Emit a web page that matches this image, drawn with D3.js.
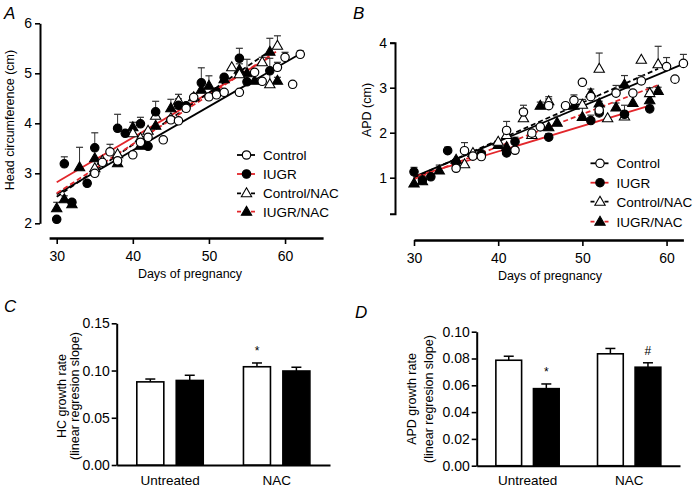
<!DOCTYPE html>
<html><head><meta charset="utf-8">
<script src="https://cdn.jsdelivr.net/npm/d3@7"></script>
<style>
body{margin:0;background:#fff;}
svg text{font-family:"Liberation Sans",Arial,Helvetica,sans-serif;fill:#000;}
</style></head><body>
<svg id="chart" width="693" height="488"></svg>
<script>
// ---------- DATA ----------
const groups = ["Control", "IUGR", "Control/NAC", "IUGR/NAC"];
const dayTicks = [30, 40, 50, 60];
const hcTicks = [2, 3, 4, 5, 6];
const apdTicks = [1, 2, 3, 4];

// [day, mean, SEM] — head circumference (cm)
const hcControl = [[35,3.0,0.1],[36,3.22,0.05],[37,3.43,0.15],[38,3.25,0],[40,3.37,0],[41,3.62,0.1],[42,3.72,0],[44,3.67,0],[45,4.07,0],[46,4.05,0],[47,4.3,0],[48,4.52,0],[50,4.53,0],[51,4.57,0],[52,4.62,0],[54,4.62,0],[56,5.02,0],[57,4.84,0],[59,5.12,0.1],[60,5.32,0.1],[61,4.78,0],[62,5.38,0.07]];
const hcIUGR = [[30,2.08,0],[31,3.19,0.14],[32,2.42,0.05],[34,2.8,0.05],[35,3.51,0.3],[38,3.9,0.28],[39,3.8,0],[41,3.99,0.13],[42,3.54,0],[43,4.23,0.21],[46,4.36,0.13],[47,4.35,0],[49,4.81,0.3],[51,4.63,0],[52,4.92,0],[54,5.3,0.2],[55,4.83,0],[58,5.05,0.25]];
const hcControlNAC = [[35,3.1,0],[36,3.25,0],[38,3.38,0],[40,3.8,0],[41,3.7,0],[42,3.85,0],[43,4.15,0],[45,4.1,0],[46,4.45,0.13],[48,4.52,0],[53,5.12,0],[54,4.98,0],[57,5.22,0.1],[58,4.78,0.3],[59,5.55,0.2]];
const hcIUGRNAC = [[30,2.3,0.12],[31,2.48,0.07],[32,2.38,0.05],[33,3.12,0.4],[35,3.3,0],[38,3.2,0.15],[40,3.92,0.1],[41,3.55,0],[43,3.95,0],[45,4.3,0.18],[49,4.67,0],[50,4.75,0.2],[52,4.88,0],[54,5.07,0.12],[55,5.0,0.28],[56,4.85,0],[58,5.43,0.27],[59,4.85,0.07]];
// regression lines [startDay, startValue, endDay, endValue]
const hcFits = [[30,2.58,62,5.39],[30,2.82,58,5.32],[30,2.53,59,5.55],[30,2.6,59,5.45]];

// [day, mean, SEM] — APD (cm)
const apdControl = [[35,1.21,0],[36,1.6,0.18],[37,1.48,0],[38,1.47,0],[41,2.05,0.2],[42,1.61,0],[43,2.46,0.15],[44,1.99,0],[45,2.13,0],[46,2.6,0.15],[48,2.6,0],[49,2.72,0.12],[50,3.12,0],[51,2.8,0],[52,2.5,0.2],[54,2.88,0.17],[56,2.88,0],[57,3.15,0.12],[60,3.47,0.2],[61,3.19,0],[62,3.54,0.2]];
const apdIUGR = [[30,1.13,0.1],[31,0.95,0],[32,1.02,0],[34,1.6,0.08],[35,1.34,0],[38,1.53,0],[41,1.55,0],[42,1.8,0.1],[46,1.9,0.08],[51,2.27,0.12],[52,2.44,0.1],[55,2.41,0.2],[58,2.53,0.08]];
const apdControlNAC = [[36,1.3,0],[37,1.55,0],[40,1.8,0],[41,1.95,0],[43,2.32,0],[44,1.95,0],[46,2.7,0.1],[50,2.62,0.12],[52,3.42,0.35],[53,2.32,0],[55,2.36,0.05],[57,3.62,0],[58,2.88,0.12],[59,3.52,0.4]];
const apdIUGRNAC = [[30,0.87,0.3],[31,0.92,0],[33,1.16,0.12],[35,1.4,0],[40,1.73,0],[41,1.68,0],[45,2.6,0.08],[46,2.12,0],[47,2.22,0.15],[49,2.6,0],[50,2.35,0.25],[51,2.87,0.1],[52,2.65,0],[54,2.56,0.1],[55,3.07,0.2],[56,2.66,0],[58,2.72,0.2],[59,2.93,0.08]];
const apdFits = [[30,1.02,62,3.53],[30,1.02,58,2.6],[30,1.0,59,3.42],[30,0.97,59,3.06]];

// growth-rate bars
const treatments = ["Untreated", "NAC"];
const barGroups = ["Control", "IUGR"];
const hcRate = [[0.088, 0.0895], [0.104, 0.0995]];
const hcRateSem = [[0.003, 0.0055], [0.004, 0.004]];
const hcRateTicks = [0, 0.05, 0.10, 0.15];
const hcRateMarks = [["NAC", "Control", "*"]];
const apdRate = [[0.0787, 0.0575], [0.0835, 0.0735]];
const apdRateSem = [[0.003, 0.0035], [0.004, 0.0033]];
const apdRateTicks = [0, 0.02, 0.04, 0.06, 0.08, 0.10];
const apdRateMarks = [["Untreated", "IUGR", "*"], ["NAC", "IUGR", "#"]];

// ---------- STYLE ----------
const RED = "#e2262b";
const style = {
  "Control":     {shape: "circle",   fill: "#fff", line: "#000", dash: null},
  "IUGR":        {shape: "circle",   fill: "#000", line: RED,    dash: null},
  "Control/NAC": {shape: "triangle", fill: "#fff", line: "#000", dash: "5,3"},
  "IUGR/NAC":    {shape: "triangle", fill: "#000", line: RED,    dash: "5,3"}
};
const svg = d3.select("#chart");

function marker(g, grp, x, y) {
  const s = style[grp];
  if (s.shape === "circle") {
    g.append("circle").attr("cx", x).attr("cy", y).attr("r", 4.2)
      .attr("fill", s.fill).attr("stroke", "#000").attr("stroke-width", 1.2);
  } else {
    g.append("path").attr("d", d3.symbol(d3.symbolTriangle, 46)())
      .attr("transform", `translate(${x},${y + 0.5})`)
      .attr("fill", s.fill).attr("stroke", "#000").attr("stroke-width", 1.1);
  }
}

function styleAxis(g, fs) {
  g.select(".domain").attr("stroke", "#000").attr("stroke-width", 2);
  g.selectAll(".tick line").attr("stroke", "#000").attr("stroke-width", 1.6);
  g.selectAll(".tick text").style("font-size", fs + "px").attr("fill", "#000");
}

function scatterPanel(cfg) {
  const g = svg.append("g");
  const {x, y} = cfg;
  const ya = g.append("g").attr("transform", `translate(${cfg.yAxisX},0)`)
    .call(d3.axisLeft(y).tickValues(cfg.yTicks).tickFormat(d3.format("d"))
      .tickSize(5).tickSizeOuter(cfg.outer).tickPadding(3));
  styleAxis(ya, 14);
  const xa = g.append("g").attr("transform", `translate(0,${cfg.xAxisY})`)
    .call(d3.axisBottom(x).tickValues(dayTicks).tickFormat(d3.format("d"))
      .tickSize(6).tickSizeOuter(0).tickPadding(7));
  styleAxis(xa, 14);
  xa.select(".domain").attr("stroke-width", 2.6);

  cfg.fits.forEach((f, i) => {
    const s = style[groups[i]];
    g.append("line").attr("x1", x(f[0])).attr("y1", y(f[1])).attr("x2", x(f[2])).attr("y2", y(f[3]))
      .attr("stroke", s.line).attr("stroke-width", 1.8).attr("stroke-dasharray", s.dash);
  });
  const order = [3, 2, 1, 0];
  order.forEach(i => {
    cfg.series[i].forEach(d => {
      if (d[2] > 0) {
        const xx = x(d[0]), y0 = y(d[1]), y1 = y(d[1] + d[2]);
        g.append("line").attr("x1", xx).attr("x2", xx).attr("y1", y0).attr("y2", y1)
          .attr("stroke", "#333").attr("stroke-width", 1);
        g.append("line").attr("x1", xx - 3.5).attr("x2", xx + 3.5).attr("y1", y1).attr("y2", y1)
          .attr("stroke", "#333").attr("stroke-width", 1.2);
      }
    });
  });
  order.forEach(i => {
    cfg.series[i].forEach(d => marker(g, groups[i], x(d[0]), y(d[1])));
  });
  groups.forEach((grp, i) => {
    const s = style[grp];
    const cy = cfg.legY[i];
    g.append("line").attr("x1", cfg.legX).attr("x2", cfg.legX + 18).attr("y1", cy).attr("y2", cy)
      .attr("stroke", s.line).attr("stroke-width", 1.8).attr("stroke-dasharray", s.dash ? "4,3" : null);
    marker(g, grp, cfg.legX + 9.5, cy);
    g.append("text").attr("x", cfg.legX + 26).attr("y", cy + 4.8).style("font-size", "13.5px").text(grp);
  });
  g.append("text").attr("transform", `translate(${cfg.yTitle[0]},${cfg.yTitle[1]}) rotate(-90)`)
    .attr("text-anchor", "middle").style("font-size", "12.5px").text(cfg.yLabel);
  g.append("text").attr("x", cfg.xTitle[0]).attr("y", cfg.xTitle[1])
    .attr("text-anchor", "middle").style("font-size", "12.5px").text("Days of pregnancy");
  g.append("text").attr("x", cfg.letter[0]).attr("y", cfg.letter[1])
    .style("font-size", "17px").style("font-style", "italic").text(cfg.letterText);
}

function barPanel(cfg) {
  const g = svg.append("g");
  const y = cfg.y;
  const x0 = d3.scaleBand().domain(treatments).range(cfg.xRange).padding(0);
  const x1 = d3.scaleBand().domain(barGroups).range([0, x0.bandwidth()]).paddingInner(0.315).paddingOuter(0.51);
  const ya = g.append("g").attr("transform", `translate(${cfg.xRange[0]},0)`)
    .call(d3.axisLeft(y).tickValues(cfg.ticks).tickFormat(d3.format(".2f")).tickSize(5).tickSizeOuter(0).tickPadding(2));
  styleAxis(ya, 14);
  const xa = g.append("g").attr("transform", `translate(0,${y(0)})`)
    .call(d3.axisBottom(x0).tickSize(0).tickPadding(10));
  styleAxis(xa, 13.5);

  treatments.forEach((t, ti) => {
    barGroups.forEach((b, bi) => {
      const v = cfg.values[ti][bi], e = cfg.sems[ti][bi];
      const bx = x0(t) + x1(b), bw = x1.bandwidth(), cx = bx + bw / 2;
      g.append("line").attr("x1", cx).attr("x2", cx).attr("y1", y(v)).attr("y2", y(v + e))
        .attr("stroke", "#000").attr("stroke-width", 1.5);
      g.append("line").attr("x1", cx - 5).attr("x2", cx + 5).attr("y1", y(v + e)).attr("y2", y(v + e))
        .attr("stroke", "#000").attr("stroke-width", 1.5);
      g.append("rect").attr("x", bx).attr("y", y(v)).attr("width", bw).attr("height", y(0) - y(v))
        .attr("fill", bi === 0 ? "#fff" : "#000").attr("stroke", "#000").attr("stroke-width", 1.6);
    });
  });
  cfg.marks.forEach(m => {
    const ti = treatments.indexOf(m[0]), bi = barGroups.indexOf(m[1]);
    const cx = x0(m[0]) + x1(m[1]) + x1.bandwidth() / 2;
    const top = y(cfg.values[ti][bi] + cfg.sems[ti][bi]);
    g.append("text").attr("x", cx).attr("y", top - 8).attr("text-anchor", "middle")
      .style("font-size", "12px").text(m[2]);
  });
  cfg.yLabels.forEach((lab, i) => {
    g.append("text").attr("transform", `translate(${cfg.yLabelX[i]},${cfg.yLabelY}) rotate(-90)`)
      .attr("text-anchor", "middle").style("font-size", "12.5px").text(lab);
  });
  g.append("text").attr("x", cfg.letter[0]).attr("y", cfg.letter[1])
    .style("font-size", "17px").style("font-style", "italic").text(cfg.letterText);
}

// Panel A
scatterPanel({
  x: d3.scaleLinear().domain([29, 65]).range([49.1, 323.1]),
  y: d3.scaleLinear().domain([2, 6]).range([223.3, 23.3]),
  yAxisX: 40, xAxisY: 238, yTicks: hcTicks, outer: 0,
  series: [hcControl, hcIUGR, hcControlNAC, hcIUGRNAC], fits: hcFits,
  legX: 237, legY: [155, 174, 193.3, 211.7],
  yLabel: "Head circumference (cm)", yTitle: [14, 120], xTitle: [190, 278],
  letter: [4, 19], letterText: "A"
});
// Panel B
scatterPanel({
  x: d3.scaleLinear().domain([30, 62]).range([414, 683.4]),
  y: d3.scaleLinear().domain([0.2, 4]).range([213.7, 42.7]),
  yAxisX: 395, xAxisY: 240, yTicks: apdTicks, outer: 5,
  series: [apdControl, apdIUGR, apdControlNAC, apdIUGRNAC], fits: apdFits,
  legX: 590.5, legY: [163.3, 182.7, 201.7, 221.7],
  yLabel: "APD (cm)", yTitle: [371, 110], xTitle: [550, 280],
  letter: [353, 19], letterText: "B"
});
// Panel C
barPanel({
  y: d3.scaleLinear().domain([0, 0.15]).range([465, 323.3]),
  xRange: [116.7, 330], ticks: hcRateTicks,
  values: hcRate, sems: hcRateSem, marks: hcRateMarks,
  yLabels: ["HC growth rate", "(linear regresion slope)"], yLabelX: [66, 79], yLabelY: 396,
  letter: [4, 312], letterText: "C"
});
// Panel D
barPanel({
  y: d3.scaleLinear().domain([0, 0.10]).range([465.7, 331.7]),
  xRange: [476.7, 680], ticks: apdRateTicks,
  values: apdRate, sems: apdRateSem, marks: apdRateMarks,
  yLabels: ["APD growth rate", "(linear regresion slope)"], yLabelX: [416, 433], yLabelY: 399,
  letter: [355, 318], letterText: "D"
});
</script>
</body></html>
